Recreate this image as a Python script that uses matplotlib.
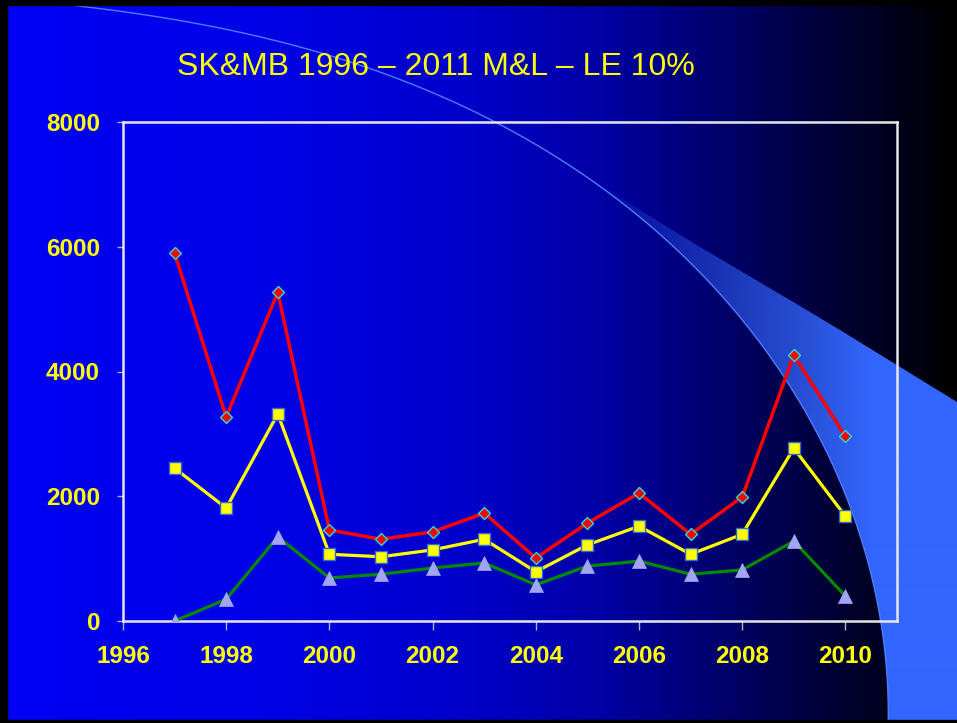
import numpy as np
import matplotlib
matplotlib.use("Agg")
import matplotlib.pyplot as plt
from matplotlib.patches import Polygon, Rectangle

# ---------------- data ----------------
years = [1997, 1998, 1999, 2000, 2001, 2002, 2003, 2004, 2005, 2006, 2007, 2008, 2009, 2010]
red_vals = [5900, 3270, 5270, 1460, 1310, 1430, 1730, 1010, 1570, 2050, 1390, 1990, 4260, 2960]
yellow_vals = [2450, 1810, 3320, 1070, 1030, 1140, 1310, 790, 1220, 1520, 1070, 1390, 2770, 1680]
green_vals = [0, 350, 1350, 690, 750, 850, 930, 580, 880, 960, 750, 820, 1280, 400]
x_ticks = [1996, 1998, 2000, 2002, 2004, 2006, 2008, 2010]
y_ticks = [0, 2000, 4000, 6000, 8000]
title = "SK&MB 1996 \u2013 2011 M&L \u2013 LE 10%"

W, H = 957, 723
fig = plt.figure(figsize=(W / 100, H / 100), dpi=100)
fig.patch.set_facecolor("black")

# ---------------- background (decoration) ----------------
bg = fig.add_axes([0, 0, 1, 1], zorder=0)
bg.axis("off")
xs = np.arange(W)
blue = np.interp(xs, [0, 250, 450, 600, 840, 957], [245, 232, 205, 165, 50, 0]) / 255.0
grad = np.zeros((2, W, 3))
grad[:, :, 2] = blue
bg.imshow(grad, extent=[0, W, H, 0], aspect="auto", zorder=0, interpolation="bilinear")

# smooth arc: polar fit r(theta) around a centre at lower left
anchors = np.array([(77, 7), (230, 28), (367, 67), (448, 100), (497, 123),
                    (600, 187), (650, 227), (700, 273), (740, 320), (767, 353),
                    (787, 380), (807, 413), (827, 447), (853, 513), (873, 580),
                    (883, 647), (888, 720)], dtype=float)
cx, cy = 0.0, 760.0
th = np.arctan2(cy - anchors[:, 1], anchors[:, 0] - cx)
rr = np.hypot(anchors[:, 0] - cx, cy - anchors[:, 1])
coef = np.polyfit(th, rr, 3)
tt = np.linspace(np.deg2rad(92), np.deg2rad(-2), 600)
r_fit = np.polyval(coef, tt)
arc = np.column_stack([cx + r_fit * np.cos(tt), cy - r_fit * np.sin(tt)])

tip_idx = np.argmin(np.abs(arc[:, 0] - 592))
lower = arc[tip_idx:]
upper = np.array([(arc[tip_idx, 0], arc[tip_idx, 1]), (700, 247), (800, 306), (840, 330), (957, 402)], dtype=float)
poly_pts = np.vstack([upper, [(957, 730)], lower[::-1]])
clip = Polygon(poly_pts, closed=True, facecolor="none", edgecolor="none", transform=bg.transData)
bg.add_patch(clip)
fill = np.zeros((2, W, 4))
fill[:, :, 0] = 51 / 255
fill[:, :, 1] = 102 / 255
fill[:, :, 2] = 1.0
fill[:, :, 3] = np.clip(np.interp(xs, [590, 640, 870], [0.05, 0.25, 1.0]), 0, 1)
im = bg.imshow(fill, extent=[0, W, H, 0], aspect="auto", zorder=1, interpolation="bilinear")
im.set_clip_path(clip)
bg.plot(arc[:, 0], arc[:, 1], color="#4d7dff", lw=1.0, zorder=2)
bg.set_xlim(0, W)
bg.set_ylim(H, 0)

# black frame
bg.add_patch(Rectangle((0, 0), 7, H, color="black", zorder=5))
bg.add_patch(Rectangle((0, 0), W, 5, color="black", zorder=5))
bg.add_patch(Rectangle((0, H - 3), W, 3, color="black", zorder=5))

# ---------------- chart ----------------
ax = fig.add_axes([123 / W, 1 - 621 / H, (897 - 123) / W, (621 - 122) / H], zorder=2)
ax.patch.set_alpha(0)
ax.set_xlim(1996, 2011)
ax.set_ylim(0, 8000)

ax.plot(years, green_vals, color="#008a00", lw=2.3, marker="^", ms=9.5,
        markerfacecolor="#a4a4f4", markeredgecolor="#a4a4f4", markeredgewidth=0.5, zorder=3)
ax.plot(years, yellow_vals, color="#ffff00", lw=2.3, marker="s", ms=8.3,
        markerfacecolor="#ffff00", markeredgecolor="#3366dd", markeredgewidth=1.0, zorder=4)
ax.plot(years, red_vals, color="#ff0000", lw=2.5, marker="D", ms=6.3,
        markerfacecolor="#ff0000", markeredgecolor="#22dddd", markeredgewidth=1.0, zorder=5)

for s in ax.spines.values():
    s.set_color("#e6e6e6")
    s.set_linewidth(1.8)

ax.set_xticks(x_ticks)
ax.set_yticks(y_ticks)
ax.set_xticklabels([str(v) for v in x_ticks])
ax.set_yticklabels([str(v) for v in y_ticks])
ax.tick_params(axis="x", direction="out", length=6.5, width=1, color="#b0b0c8", pad=10.5)
ax.tick_params(axis="y", direction="out", length=4.5, width=1, color="#b0b0c8", pad=12)
for lab in ax.get_xticklabels() + ax.get_yticklabels():
    lab.set_color("#ffff00")
    lab.set_fontweight("bold")
    lab.set_fontsize(17.5)
    lab.set_family("Liberation Sans")

fig.text(436 / W, 1 - 67 / H, title, color="#ffff00", fontsize=23, family="Liberation Sans",
         ha="center", va="center")

fig.savefig("out.png", dpi=100, facecolor=fig.get_facecolor())
